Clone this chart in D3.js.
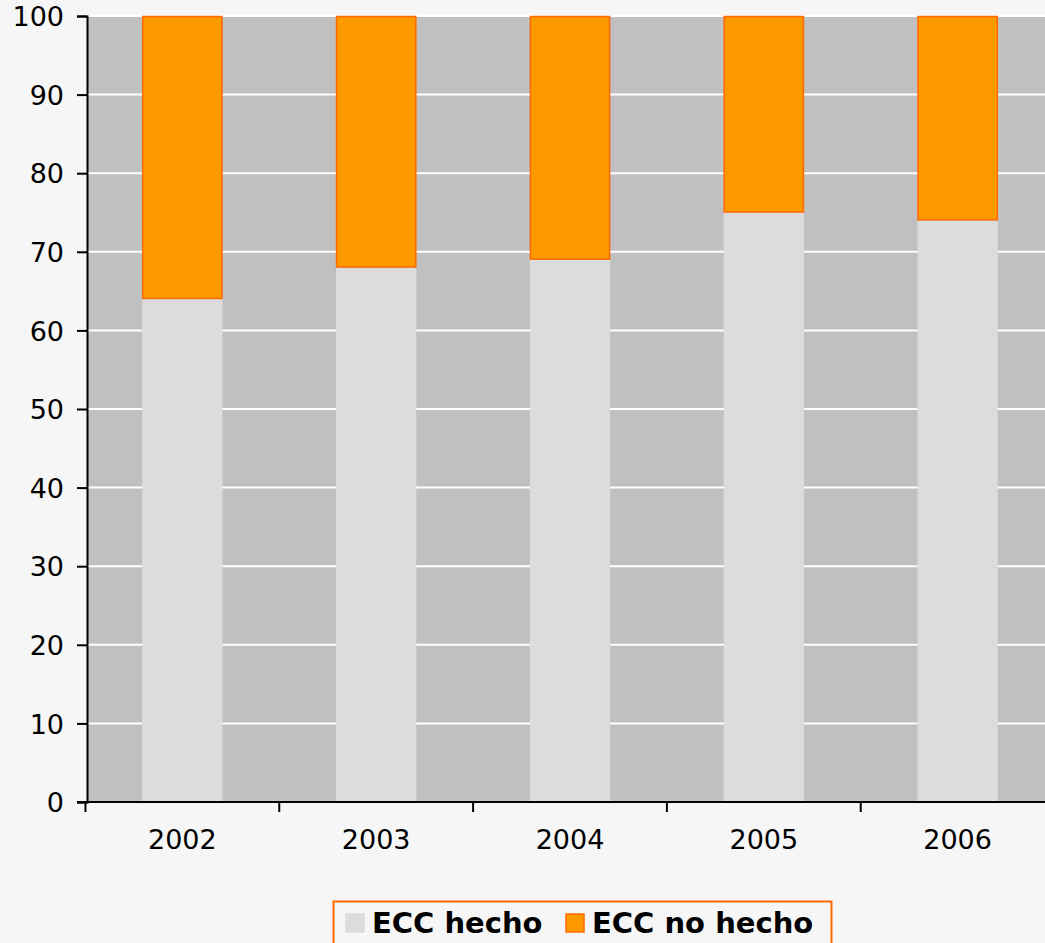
<!DOCTYPE html>
<html>
<head>
<meta charset="utf-8">
<script src="https://cdn.jsdelivr.net/npm/d3@7"></script>
<style>
  body { margin: 0; background: #f6f6f6; }
  svg { display: block; }
</style>
</head>
<body>
<div id="chart"></div>
<script>
// data
var years = ["2002", "2003", "2004", "2005", "2006"];
var hecho = [64, 68, 69, 75, 74];
var noHecho = [36, 32, 31, 25, 26];
var seriesNames = ["ECC hecho", "ECC no hecho"];
var yTicks = [0, 10, 20, 30, 40, 50, 60, 70, 80, 90, 100];

var W = 1045, H = 943;
var margin = {top: 16, left: 87, bottom: 141};
var plotRight = 1053;
var plotBottom = H - margin.bottom;

var svg = d3.select("#chart")
  .append("svg")
    .attr("width", W)
    .attr("height", H);

var x = d3.scaleBand()
  .domain(years)
  .range([margin.left, plotRight])
  .paddingInner(0.586)
  .paddingOuter(0.285);

var y = d3.scaleLinear()
  .domain([0, 100])
  .range([plotBottom, margin.top]);

// plot background
svg.append("rect")
  .attr("x", margin.left)
  .attr("y", margin.top)
  .attr("width", plotRight - margin.left)
  .attr("height", plotBottom - margin.top)
  .attr("fill", "#c0c0c0");

// grid lines
svg.selectAll("line.grid")
  .data(yTicks.slice(1))
  .enter()
  .append("line")
  .attr("class", "grid")
  .attr("x1", margin.left)
  .attr("x2", plotRight)
  .attr("y1", function(d) { return y(d); })
  .attr("y2", function(d) { return y(d); })
  .attr("stroke", "#ffffff")
  .attr("stroke-width", 2);

// stacked bars
var rows = years.map(function(yr, i) {
  return {year: yr, hecho: hecho[i], noHecho: noHecho[i]};
});

svg.selectAll("rect.hecho")
  .data(rows)
  .enter()
  .append("rect")
  .attr("class", "hecho")
  .attr("x", function(d) { return x(d.year); })
  .attr("width", x.bandwidth())
  .attr("y", function(d) { return y(d.hecho); })
  .attr("height", function(d) { return y(0) - y(d.hecho); })
  .attr("fill", "#dcdcdc");

svg.selectAll("rect.nohecho")
  .data(rows)
  .enter()
  .append("rect")
  .attr("class", "nohecho")
  .attr("x", function(d) { return x(d.year) + 0.5; })
  .attr("width", x.bandwidth() - 1)
  .attr("y", function(d) { return y(d.hecho + d.noHecho) + 0.5; })
  .attr("height", function(d) { return y(d.hecho) - y(d.hecho + d.noHecho) - 1; })
  .attr("fill", "#ff9900")
  .attr("stroke", "#ff6a00")
  .attr("stroke-width", 1.5);

// Y axis
var yAxis = svg.append("g")
  .attr("transform", "translate(" + margin.left + ",0)")
  .call(d3.axisLeft(y).tickValues(yTicks).tickSize(10).tickPadding(13));
yAxis.select(".domain").attr("stroke", "#000").attr("stroke-width", 2);
yAxis.selectAll(".tick line").attr("stroke", "#000").attr("stroke-width", 2);
yAxis.selectAll(".tick text")
  .attr("fill", "#000")
  .attr("dy", "0.36em")
  .style("font-family", "DejaVu Sans, Verdana, sans-serif")
  .style("font-size", "27px");

// X axis, ticks at band edges
var xAxis = svg.append("g")
  .attr("transform", "translate(0," + plotBottom + ")");
xAxis.append("line")
  .attr("x1", margin.left - 10)
  .attr("x2", plotRight)
  .attr("stroke", "#000")
  .attr("stroke-width", 2);
xAxis.selectAll("line.tk")
  .data(years)
  .enter()
  .append("line")
  .attr("class", "tk")
  .attr("x1", function(d) { return x(d) - x.step() * x.paddingInner() / 2; })
  .attr("x2", function(d) { return x(d) - x.step() * x.paddingInner() / 2; })
  .attr("y1", 0)
  .attr("y2", 10)
  .attr("stroke", "#000")
  .attr("stroke-width", 2);
xAxis.selectAll("text")
  .data(years)
  .enter()
  .append("text")
  .attr("x", function(d) { return x(d) + x.bandwidth() / 2; })
  .attr("y", 47)
  .attr("text-anchor", "middle")
  .style("font-family", "DejaVu Sans, Verdana, sans-serif")
  .style("font-size", "27px")
  .text(function(d) { return d; });

// legend
var legend = svg.append("g");
legend.append("rect")
  .attr("x", 333.5)
  .attr("y", 901.5)
  .attr("width", 498)
  .attr("height", 50)
  .attr("fill", "#f6f6f6")
  .attr("stroke", "#ff6a00")
  .attr("stroke-width", 2);

var legendItems = [
  {name: seriesNames[0], fill: "#dcdcdc", stroke: "#dcdcdc", sx: 346, tx: 372},
  {name: seriesNames[1], fill: "#ff9900", stroke: "#ff6a00", sx: 566, tx: 592}
];
legend.selectAll("rect.sw")
  .data(legendItems)
  .enter()
  .append("rect")
  .attr("class", "sw")
  .attr("x", function(d) { return d.sx; })
  .attr("y", 914)
  .attr("width", 18)
  .attr("height", 18)
  .attr("fill", function(d) { return d.fill; })
  .attr("stroke", function(d) { return d.stroke; })
  .attr("stroke-width", 1.5);
legend.selectAll("text")
  .data(legendItems)
  .enter()
  .append("text")
  .attr("x", function(d) { return d.tx; })
  .attr("y", 933)
  .style("font-family", "DejaVu Sans, Verdana, sans-serif")
  .style("font-size", "29px")
  .style("font-weight", "bold")
  .text(function(d) { return d.name; });
</script>
</body>
</html>
